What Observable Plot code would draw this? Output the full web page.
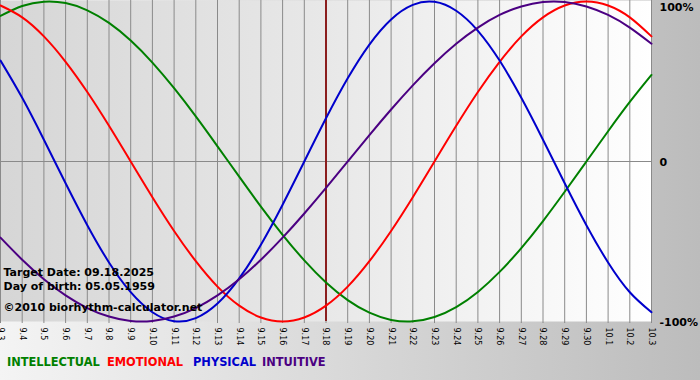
<!DOCTYPE html>
<html><head><meta charset="utf-8">
<script src="https://cdn.jsdelivr.net/npm/d3@7"></script>
<script src="https://cdn.jsdelivr.net/npm/@observablehq/plot@0.6"></script>
<style>
html,body{margin:0;padding:0;}
body{width:700px;height:380px;overflow:hidden;background:linear-gradient(to right,#f4f4f4,#bcbcbc);font-family:"DejaVu Sans",Verdana,sans-serif;}
#wrap{position:relative;width:700px;height:380px;}
#chart svg{display:block;overflow:visible;}
#legend span{position:absolute;top:356px;font-weight:bold;font-size:11.4px;line-height:13px;white-space:nowrap;}
</style></head><body><div id="wrap"><div id="chart"></div><div id="legend"></div></div>
<script>
const dayLabels = ["9.3","9.4","9.5","9.6","9.7","9.8","9.9","9.10","9.11","9.12","9.13","9.14","9.15","9.16","9.17","9.18","9.19","9.20","9.21","9.22","9.23","9.24","9.25","9.26","9.27","9.28","9.29","9.30","10.1","10.2","10.3"];
const intellectual = [0.910,0.972,0.999,0.990,0.945,0.866,0.756,0.618,0.458,0.282,0.095,-0.095,-0.282,-0.458,-0.618,-0.756,-0.866,-0.945,-0.990,-0.999,-0.972,-0.910,-0.815,-0.690,-0.541,-0.372,-0.189,0.000,0.189,0.372,0.541];
const emotional = [0.975,0.901,0.782,0.623,0.434,0.223,0.000,-0.223,-0.434,-0.623,-0.782,-0.901,-0.975,-1.000,-0.975,-0.901,-0.782,-0.623,-0.434,-0.223,0.000,0.223,0.434,0.623,0.782,0.901,0.975,1.000,0.975,0.901,0.782];
const physical = [0.631,0.398,0.136,-0.136,-0.398,-0.631,-0.817,-0.942,-0.998,-0.979,-0.888,-0.731,-0.520,-0.270,0.000,0.270,0.520,0.731,0.888,0.979,0.998,0.942,0.817,0.631,0.398,0.136,-0.136,-0.398,-0.631,-0.817,-0.942];
const intuitive = [-0.476,-0.614,-0.736,-0.837,-0.916,-0.969,-0.997,-0.997,-0.969,-0.916,-0.837,-0.736,-0.614,-0.476,-0.325,-0.165,0.000,0.165,0.325,0.476,0.614,0.736,0.837,0.916,0.969,0.997,0.997,0.969,0.916,0.837,0.736];
const seriesNames = ["INTELLECTUAL","EMOTIONAL","PHYSICAL","INTUITIVE"];
const seriesColors = ["#008000","#ff0000","#0000cc","#4b0082"];
const targetDay = "9.18";
const infoLines = ["Target Date: 09.18.2025","Day of birth: 05.05.1959","©2010 biorhythm-calculator.net"];
const yTicks = [1, 0, -1];
const yTickLabels = ["100%","0","-100%"];

const seriesValues = [intellectual, emotional, physical, intuitive];
const dayPos = d => dayLabels.indexOf(d);
const rows = seriesNames.flatMap((s, si) => seriesValues[si].map((v, i) => ({day: dayLabels[i], value: v, series: s})));

const FONT = "DejaVu Sans, Verdana, sans-serif";
const infoDy = [-49, -35, -14];
const yLabelDy = [6, 1, 1];

const chart = Plot.plot({
  width: 700, height: 352,
  marginLeft: 0, marginRight: 49, marginTop: 0, marginBottom: 31,
  style: {background: "transparent", overflow: "visible"},
  x: {domain: [0, dayLabels.length - 1], range: [0, 651], axis: null},
  y: {domain: [-1, 1], range: [321, 1], axis: null},
  color: {domain: seriesNames, range: seriesColors},
  marks: [
    Plot.frame({fill: "url(#plotbg)", stroke: "none"}),
    Plot.ruleX(dayLabels, {x: dayPos, stroke: "#8a8a8a", strokeWidth: 1, insetBottom: -2}),
    Plot.ruleY([0], {stroke: "#8a8a8a", strokeWidth: 1}),
    Plot.ruleX([targetDay], {x: dayPos, stroke: "#8b1e1e", strokeWidth: 2}),
    Plot.line(rows, {x: d => dayPos(d.day), y: "value", z: "series", stroke: "series", strokeWidth: 2, curve: "natural"}),
    ...infoLines.map((t, i) => Plot.text([t], {text: d => d, frameAnchor: "bottom-left", textAnchor: "start", lineAnchor: "middle", dx: 3, dy: infoDy[i], fontFamily: FONT, fontWeight: "bold", fontSize: 11, fill: "#000"})),
    Plot.text(dayLabels, {x: dayPos, text: d => d, frameAnchor: "bottom", rotate: 90, textAnchor: "start", lineAnchor: "middle", dy: 6, fontFamily: FONT, fontSize: 8, fill: "#000"}),
    ...yTickLabels.map((t, i) => Plot.text([t], {y: () => yTicks[i], text: d => d, frameAnchor: "right", textAnchor: "start", lineAnchor: "middle", dx: 8, dy: yLabelDy[i], fontFamily: FONT, fontWeight: "bold", fontSize: 11, fill: "#000"}))
  ]
});

d3.select(chart).insert("defs", ":first-child").html('<linearGradient id="plotbg" x1="0" x2="1" y1="0" y2="0"><stop offset="0" stop-color="#d6d6d6"/><stop offset="0.5" stop-color="#e8e8e8"/><stop offset="1" stop-color="#ffffff"/></linearGradient>');
document.getElementById("chart").appendChild(chart);

const legendLeft = [7, 107, 193, 262];
const legend = document.getElementById("legend");
seriesNames.forEach((s, i) => {
  const sp = document.createElement("span");
  sp.textContent = s;
  sp.style.left = legendLeft[i] + "px";
  sp.style.color = seriesColors[i];
  legend.appendChild(sp);
});
</script>
</body></html>
